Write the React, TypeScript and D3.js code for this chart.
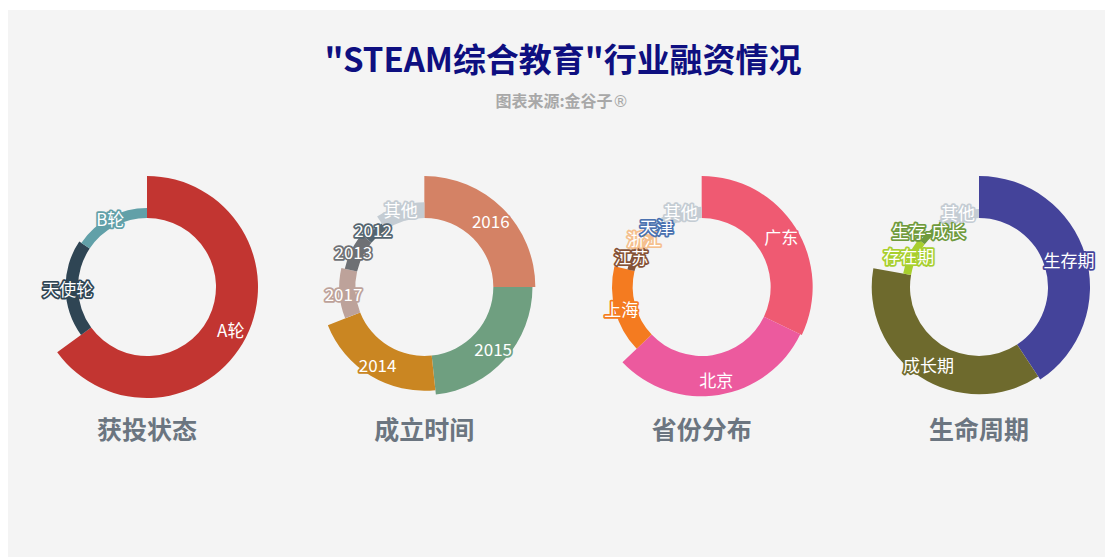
import * as d3 from "d3";

// 获投状态
const statusNames = ["A轮", "天使轮", "B轮"];
const statusValues = [65, 19.4, 15.6];
const statusColors = ["#c23531", "#2f4554", "#61a0a8"];

// 成立时间
const yearNames = ["2016", "2015", "2014", "2017", "2013", "2012", "其他"];
const yearValues = [25, 23.3, 20.7, 9.6, 7.5, 4.5, 9.4];
const yearColors = ["#d48265", "#6f9f80", "#ca8622", "#bda29a", "#6e7074", "#546570", "#c4ccd3"];

// 省份分布
const provinceNames = ["广东", "北京", "上海", "江苏", "浙江", "天津", "其他"];
const provinceValues = [32.1, 30.8, 15.8, 5.6, 3.8, 3.3, 8.6];
const provinceColors = ["#ef5a72", "#ec5a9e", "#f47b20", "#865236", "#f5c08e", "#4b72b0", "#c4ccd3"];

// 生命周期
const stageNames = ["生存期", "成长期", "存在期", "生存-成长", "其他"];
const stageValues = [40.7, 37.1, 7.8, 5.7, 8.7];
const stageColors = ["#44439a", "#6e6a2d", "#a8cf2e", "#6f9a3c", "#c4ccd3"];

const panelTitles = ["获投状态", "成立时间", "省份分布", "生命周期"];

const W = 1105;
const H = 557;
const FONT = "'Noto Sans CJK SC', 'Noto Sans', sans-serif";

const panels = [
  { names: statusNames, values: statusValues, colors: statusColors },
  { names: yearNames, values: yearValues, colors: yearColors },
  { names: provinceNames, values: provinceValues, colors: provinceColors },
  { names: stageNames, values: stageValues, colors: stageColors },
];

// centre of each rose donut
const centerX = d3.scalePoint<number>().domain([0, 1, 2, 3]).range([147, 979]);
const centerY = 287;
const innerR = 69;
const outerR = 111;

function Rose({ names, values, colors, cx }: { names: string[]; values: number[]; colors: string[]; cx: number }) {
  const rScale = d3.scaleLinear().domain([0, d3.max(values)!]).range([innerR, outerR]);
  const pie = d3.pie<number>().sort(null).value((d) => d)(values);
  const arc = d3.arc<d3.PieArcDatum<number>>()
    .innerRadius(innerR)
    .outerRadius((d) => rScale(d.data));

  return (
    <g transform={`translate(${cx},${centerY})`}>
      {pie.map((p, i) => (
        <path key={names[i]} d={arc(p)!} fill={colors[i]} />
      ))}
      {pie.map((p, i) => {
        const mid = (p.startAngle + p.endAngle) / 2;
        const r = (innerR + rScale(p.data)) / 2 + 4;
        return (
          <text
            key={"l" + names[i]}
            x={Math.sin(mid) * r}
            y={-Math.cos(mid) * r}
            textAnchor="middle"
            dominantBaseline="central"
            fontSize={17}
            fill="#fff"
            stroke={colors[i]}
            strokeWidth={3.5}
            strokeLinejoin="round"
            paintOrder="stroke"
          >
            {names[i]}
          </text>
        );
      })}
    </g>
  );
}

export default function App() {
  return (
    <svg
      width={W}
      height={H}
      style={{ position: "absolute", left: 0, top: 0, fontFamily: FONT }}
    >
      <rect x={0} y={0} width={W} height={H} fill="#fff" />
      <rect x={8} y={10} width={W - 8} height={H - 10} fill="#f4f4f4" />

      <text x={563} y={72} textAnchor="middle" fontSize={33} fontWeight="bold" fill="#0e0f80"
        textLength={477} lengthAdjust="spacing">
        "STEAM综合教育"行业融资情况
      </text>
      <text x={562} y={107} textAnchor="middle" fontSize={16} fontWeight="bold" fill="#a8a8a8">
        图表来源:金谷子<tspan fontFamily="'DejaVu Sans'" fontWeight="normal">®</tspan>
      </text>

      {panels.map((p, i) => (
        <g key={i}>
          <Rose names={p.names} values={p.values} colors={p.colors} cx={centerX(i)!} />
          <text x={centerX(i)!} y={439} textAnchor="middle" fontSize={25} fontWeight="bold" fill="#6b7580">
            {panelTitles[i]}
          </text>
        </g>
      ))}
    </svg>
  );
}
